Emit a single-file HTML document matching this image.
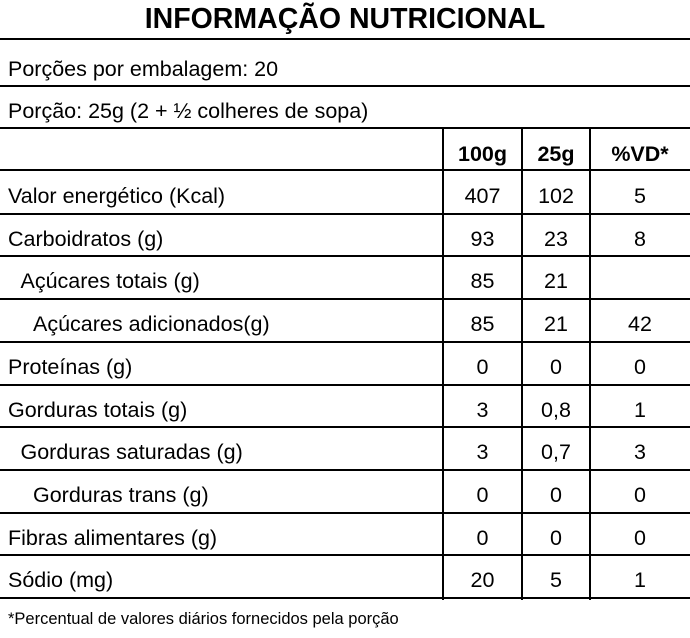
<!DOCTYPE html>
<html><head><meta charset="utf-8"><style>
body{margin:0;width:690px;height:638px;background:#fff;font-family:"Liberation Sans",Arial,sans-serif;color:#000;position:relative;overflow:hidden}
.t{position:absolute;white-space:nowrap}
.h{position:absolute;left:0;width:690px;height:2px;background:#000}
.v{position:absolute;top:128px;height:472px;width:2px;background:#000}
.c{position:absolute;text-align:center;font-size:21.5px;line-height:42px;white-space:nowrap}
</style></head><body>
<div class="t" style="left:0;width:690px;text-align:center;top:2px;font-size:28.5px;font-weight:bold;line-height:34px">INFORMAÇÃO NUTRICIONAL</div>
<div class="h" style="top:38px"></div>
<div class="t" style="left:8px;top:49px;font-size:21.5px;line-height:40px">Porções por embalagem: 20</div>
<div class="h" style="top:85px"></div>
<div class="t" style="left:8px;top:91px;font-size:21.5px;line-height:40px">Porção: 25g (2 + ½ colheres de sopa)</div>
<div class="h" style="top:127px"></div>
<div class="v" style="left:442px"></div>
<div class="v" style="left:521px"></div>
<div class="v" style="left:589px"></div>
<div id="rows"></div>
<div class="t" style="left:8px;top:609px;font-size:16.5px;line-height:20px">*Percentual de valores diários fornecidos pela porção</div>
<script>
const labels=["Valor energético (Kcal)","Carboidratos (g)","Açúcares totais (g)","Açúcares adicionados(g)","Proteínas (g)","Gorduras totais (g)","Gorduras saturadas (g)","Gorduras trans (g)","Fibras alimentares (g)","Sódio (mg)"];
const indents=[0,0,1,2,0,0,1,2,0,0];
const per100=["407","93","85","85","0","3","3","0","0","20"];
const per25=["102","23","21","21","0","0,8","0,7","0","0","5"];
const vd=["5","8","","42","0","1","3","0","0","1"];
const root=document.getElementById('rows');
function add(html,style,name){const d=document.createElement('div');d.className='c';d.style.cssText=style;d.innerHTML=html;


root.appendChild(d);}
add('<b>100g</b>','left:443px;width:79px;top:133px','header-100g');
add('<b>25g</b>','left:522px;width:68px;top:133px','header-25g');
add('<b>%VD*</b>','left:590px;width:100px;top:133px','header-vd');
const h0=document.createElement('div');h0.className='h';h0.style.top='169px';


root.appendChild(h0);
labels.forEach((l,i)=>{const top=171+i*42.7;
add(l,'left:'+(8+indents[i]*12.5)+'px;text-align:left;top:'+(top+4)+'px','row-label');
add(per100[i],'left:443px;width:79px;top:'+(top+4)+'px','value-100g');
add(per25[i],'left:522px;width:68px;top:'+(top+4)+'px','value-25g');
add(vd[i],'left:590px;width:100px;top:'+(top+4)+'px','value-vd');
const h=document.createElement('div');h.className='h';h.style.top=(top+41.7)+'px';


root.appendChild(h);});
</script>
</body></html>
